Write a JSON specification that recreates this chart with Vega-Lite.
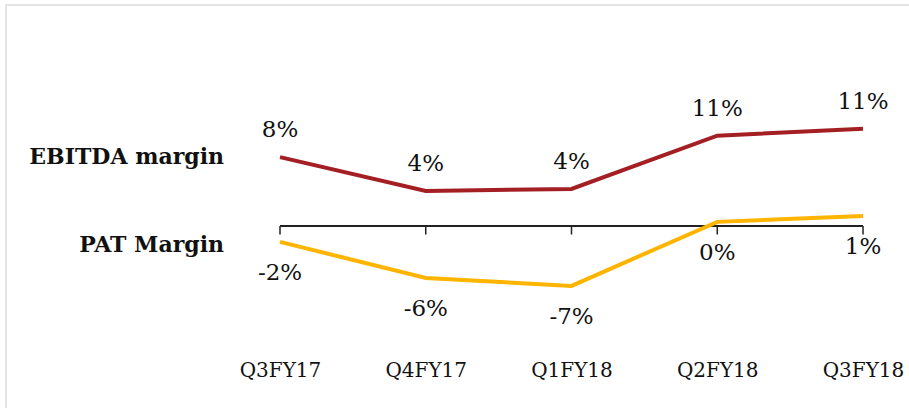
{
  "$schema": "https://vega.github.io/schema/vega-lite/v6.json",
  "width": 910,
  "height": 410,
  "autosize": {"type": "none"},
  "padding": {"left": 6, "top": 5, "right": 0, "bottom": 0},
  "background": "white",
  "config": {"view": {"stroke": "#e4e4e4", "strokeWidth": 2}, "font": "DejaVu Serif"},
  "data": {
    "values": [
      {"q": "Q3FY17", "series": "EBITDA margin", "v": 8.0, "label": "8%"},
      {"q": "Q4FY17", "series": "EBITDA margin", "v": 4.07, "label": "4%"},
      {"q": "Q1FY18", "series": "EBITDA margin", "v": 4.3, "label": "4%"},
      {"q": "Q2FY18", "series": "EBITDA margin", "v": 10.5, "label": "11%"},
      {"q": "Q3FY18", "series": "EBITDA margin", "v": 11.3, "label": "11%"},
      {"q": "Q3FY17", "series": "PAT Margin", "v": -1.86, "label": "-2%"},
      {"q": "Q4FY17", "series": "PAT Margin", "v": -6.05, "label": "-6%"},
      {"q": "Q1FY18", "series": "PAT Margin", "v": -6.98, "label": "-7%"},
      {"q": "Q2FY18", "series": "PAT Margin", "v": 0.47, "label": "0%"},
      {"q": "Q3FY18", "series": "PAT Margin", "v": 1.16, "label": "1%"}
    ]
  },
  "layer": [
    {
      "mark": {"type": "rule", "color": "#222222", "strokeWidth": 1.5},
      "encoding": {
        "x": {"datum": "Q3FY17", "type": "ordinal", "scale": {"type": "point", "padding": 0, "domain": ["Q3FY17", "Q4FY17", "Q1FY18", "Q2FY18", "Q3FY18"], "range": [274, 857]}, "axis": {"title": null, "domain": false, "ticks": false, "grid": false, "labelAngle": 0, "labelFont": "DejaVu Serif", "labelFontSize": 20, "labelColor": "#111111", "labelPadding": 0, "offset": -45, "labelBaseline": "middle"}},
        "x2": {"datum": "Q3FY18"},
        "y": {"datum": 0, "type": "quantitative", "scale": {"domain": [-22, 25.7]}, "axis": null}
      }
    },
    {
      "transform": [{"filter": "datum.series == 'EBITDA margin'"}],
      "mark": {"type": "rule", "color": "#222222", "strokeWidth": 1.5},
      "encoding": {
        "x": {"field": "q", "type": "ordinal", "scale": {"type": "point", "padding": 0, "domain": ["Q3FY17", "Q4FY17", "Q1FY18", "Q2FY18", "Q3FY18"], "range": [274, 857]}, "axis": {"title": null, "domain": false, "ticks": false, "grid": false, "labelAngle": 0, "labelFont": "DejaVu Serif", "labelFontSize": 20, "labelColor": "#111111", "labelPadding": 0, "offset": -45, "labelBaseline": "middle"}},
        "y": {"datum": 0, "type": "quantitative", "scale": {"domain": [-22, 25.7]}, "axis": null},
        "y2": {"datum": -1.0}
      }
    },
    {
      "mark": {"type": "line", "strokeWidth": 4},
      "encoding": {
        "x": {"field": "q", "type": "ordinal", "scale": {"type": "point", "padding": 0, "domain": ["Q3FY17", "Q4FY17", "Q1FY18", "Q2FY18", "Q3FY18"], "range": [274, 857]}, "axis": {"title": null, "domain": false, "ticks": false, "grid": false, "labelAngle": 0, "labelFont": "DejaVu Serif", "labelFontSize": 20, "labelColor": "#111111", "labelPadding": 0, "offset": -45, "labelBaseline": "middle"}},
        "y": {"field": "v", "type": "quantitative", "scale": {"domain": [-22, 25.7]}, "axis": null},
        "color": {"field": "series", "type": "nominal", "scale": {"domain": ["EBITDA margin", "PAT Margin"], "range": ["#A41F24", "#FFB400"]}, "legend": null}
      }
    },
    {
      "transform": [{"filter": "datum.series == 'EBITDA margin'"}],
      "mark": {"type": "text", "fontSize": 23, "align": "center", "baseline": "middle", "dy": -27, "color": "#111111", "font": "DejaVu Serif"},
      "encoding": {
        "x": {"field": "q", "type": "ordinal", "scale": {"type": "point", "padding": 0, "domain": ["Q3FY17", "Q4FY17", "Q1FY18", "Q2FY18", "Q3FY18"], "range": [274, 857]}, "axis": {"title": null, "domain": false, "ticks": false, "grid": false, "labelAngle": 0, "labelFont": "DejaVu Serif", "labelFontSize": 20, "labelColor": "#111111", "labelPadding": 0, "offset": -45, "labelBaseline": "middle"}},
        "y": {"field": "v", "type": "quantitative", "scale": {"domain": [-22, 25.7]}, "axis": null},
        "text": {"field": "label"}
      }
    },
    {
      "transform": [{"filter": "datum.series == 'PAT Margin'"}],
      "mark": {"type": "text", "fontSize": 23, "align": "center", "baseline": "middle", "dy": 31, "color": "#111111", "font": "DejaVu Serif"},
      "encoding": {
        "x": {"field": "q", "type": "ordinal", "scale": {"type": "point", "padding": 0, "domain": ["Q3FY17", "Q4FY17", "Q1FY18", "Q2FY18", "Q3FY18"], "range": [274, 857]}, "axis": {"title": null, "domain": false, "ticks": false, "grid": false, "labelAngle": 0, "labelFont": "DejaVu Serif", "labelFontSize": 20, "labelColor": "#111111", "labelPadding": 0, "offset": -45, "labelBaseline": "middle"}},
        "y": {"field": "v", "type": "quantitative", "scale": {"domain": [-22, 25.7]}, "axis": null},
        "text": {"field": "label"}
      }
    },
    {
      "transform": [{"filter": "datum.q == 'Q3FY17' && datum.series == 'EBITDA margin'"}],
      "mark": {"type": "text", "fontSize": 22, "fontWeight": "bold", "align": "right", "baseline": "middle", "dx": -56, "dy": 0, "color": "#111111", "font": "DejaVu Serif"},
      "encoding": {
        "x": {"field": "q", "type": "ordinal", "scale": {"type": "point", "padding": 0, "domain": ["Q3FY17", "Q4FY17", "Q1FY18", "Q2FY18", "Q3FY18"], "range": [274, 857]}, "axis": {"title": null, "domain": false, "ticks": false, "grid": false, "labelAngle": 0, "labelFont": "DejaVu Serif", "labelFontSize": 20, "labelColor": "#111111", "labelPadding": 0, "offset": -45, "labelBaseline": "middle"}},
        "y": {"field": "v", "type": "quantitative", "scale": {"domain": [-22, 25.7]}, "axis": null},
        "text": {"field": "series"}
      }
    },
    {
      "transform": [{"filter": "datum.q == 'Q3FY17' && datum.series == 'PAT Margin'"}],
      "mark": {"type": "text", "fontSize": 22, "fontWeight": "bold", "align": "right", "baseline": "middle", "dx": -56, "dy": 3, "color": "#111111", "font": "DejaVu Serif"},
      "encoding": {
        "x": {"field": "q", "type": "ordinal", "scale": {"type": "point", "padding": 0, "domain": ["Q3FY17", "Q4FY17", "Q1FY18", "Q2FY18", "Q3FY18"], "range": [274, 857]}, "axis": {"title": null, "domain": false, "ticks": false, "grid": false, "labelAngle": 0, "labelFont": "DejaVu Serif", "labelFontSize": 20, "labelColor": "#111111", "labelPadding": 0, "offset": -45, "labelBaseline": "middle"}},
        "y": {"field": "v", "type": "quantitative", "scale": {"domain": [-22, 25.7]}, "axis": null},
        "text": {"field": "series"}
      }
    }
  ]
}
